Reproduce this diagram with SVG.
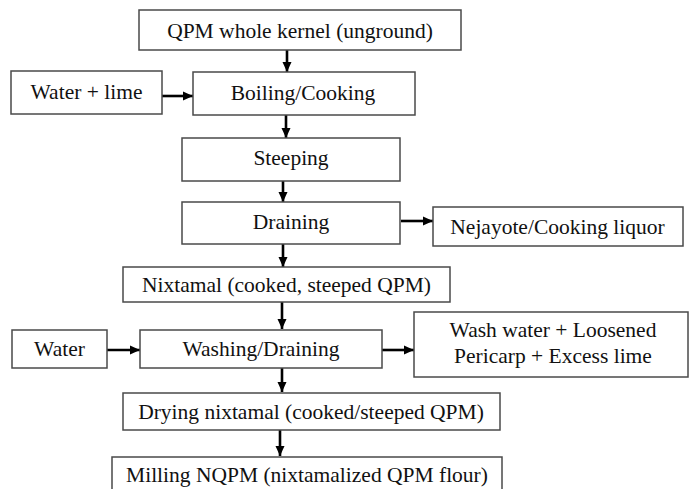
<svg xmlns="http://www.w3.org/2000/svg" width="689" height="489" viewBox="0 0 689 489">
<style>
  .box { fill: #ffffff; stroke: #4a4a4a; stroke-width: 1.5; }
  .lbl { font-family: 'Liberation Serif', 'DejaVu Serif', serif; font-size: 21.5px; fill: #111111; text-anchor: middle; }
  .conn { stroke: #000000; stroke-width: 2.6; fill: none; marker-end: url(#ah); }
</style>
<defs>
  <marker id="ah" markerUnits="userSpaceOnUse" markerWidth="11" markerHeight="11" refX="10" refY="5.5" orient="auto">
    <path d="M0,1 L10,5.5 L0,10 Z" fill="#000000"/>
  </marker>
</defs>
<rect width="689" height="489" fill="#ffffff"/>

<g id="connectors">
  <line class="conn" x1="287" y1="50" x2="287" y2="72"/>
  <line class="conn" x1="286" y1="115" x2="286" y2="138"/>
  <line class="conn" x1="283" y1="181" x2="283" y2="202"/>
  <line class="conn" x1="283" y1="244" x2="283" y2="267"/>
  <line class="conn" x1="282" y1="302" x2="282" y2="329"/>
  <line class="conn" x1="282" y1="368" x2="282" y2="392"/>
  <line class="conn" x1="280" y1="430" x2="280" y2="456"/>
  <line class="conn" x1="162" y1="96" x2="193" y2="96"/>
  <line class="conn" x1="401" y1="221" x2="433" y2="221"/>
  <line class="conn" x1="107" y1="350" x2="140" y2="350"/>
  <line class="conn" x1="382" y1="350" x2="414" y2="350"/>
</g>

<g id="n-qpm">
  <rect class="box" x="139" y="10" width="322" height="40"/>
  <text class="lbl" x="300" y="37.5">QPM whole kernel (unground)</text>
</g>
<g id="n-waterlime">
  <rect class="box" x="11" y="71" width="151" height="43"/>
  <text class="lbl" x="86.5" y="99">Water + lime</text>
</g>
<g id="n-boiling">
  <rect class="box" x="193" y="72" width="222" height="43"/>
  <text class="lbl" x="303" y="99.5">Boiling/Cooking</text>
</g>
<g id="n-steeping">
  <rect class="box" x="182" y="138" width="218" height="43"/>
  <text class="lbl" x="291" y="165">Steeping</text>
</g>
<g id="n-draining">
  <rect class="box" x="182" y="202" width="218" height="42"/>
  <text class="lbl" x="291" y="229">Draining</text>
</g>
<g id="n-nejayote">
  <rect class="box" x="433" y="207" width="250" height="39"/>
  <text class="lbl" x="557.5" y="233.5">Nejayote/Cooking liquor</text>
</g>
<g id="n-nixtamal">
  <rect class="box" x="123" y="267" width="327" height="35"/>
  <text class="lbl" x="286.5" y="291.5">Nixtamal (cooked, steeped QPM)</text>
</g>
<g id="n-water">
  <rect class="box" x="12" y="330" width="95" height="38"/>
  <text class="lbl" x="59.5" y="356">Water</text>
</g>
<g id="n-washing">
  <rect class="box" x="140" y="330" width="242" height="38"/>
  <text class="lbl" x="261" y="356">Washing/Draining</text>
</g>
<g id="n-washwater">
  <rect class="box" x="414" y="312" width="274" height="65"/>
  <text class="lbl" x="553" y="337">Wash water + Loosened</text>
  <text class="lbl" x="553" y="363">Pericarp + Excess lime</text>
</g>
<g id="n-drying">
  <rect class="box" x="123" y="393" width="377" height="37"/>
  <text class="lbl" x="311" y="418.5">Drying nixtamal (cooked/steeped QPM)</text>
</g>
<g id="n-milling">
  <rect class="box" x="112" y="457" width="390" height="40"/>
  <text class="lbl" x="307" y="482">Milling NQPM (nixtamalized QPM flour)</text>
</g>
</svg>
